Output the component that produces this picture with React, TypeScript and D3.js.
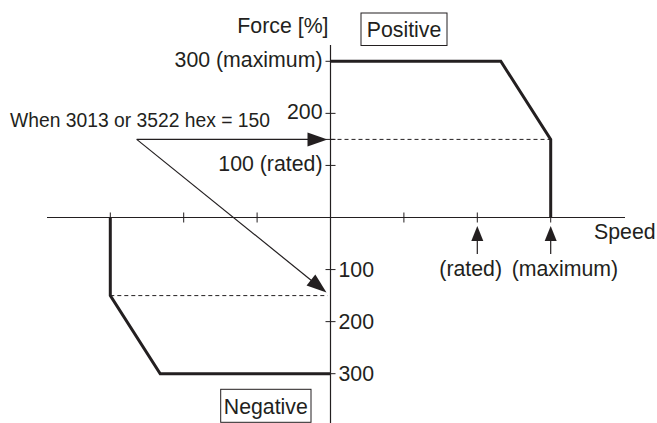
import React from "react";
import * as d3 from "d3";

const W = 657;
const H = 423;

// Speed in units of ticks (rated = 2, maximum = 3); force in %
const speedTicks = [-3, -2, -1, 1, 2, 3];
const forceTicksPos = [300, 200, 150, 100];
const forceTicksNeg = [-100, -200, -300];
const posTickLabels = ["300 (maximum)", "200", "", "100 (rated)"];
const negTickLabels = ["100", "200", "300"];
const positiveSpeed = [0, 2.32, 3, 3];
const positiveForce = [300, 300, 150, 0];
const negativeSpeed = [-3, -3, -2.32, 0];
const negativeForce = [0, -150, -300, -300];
const limitValue = 150;
const ratedSpeed = 2;
const maxSpeed = 3;

const FONT = "'Liberation Sans', Arial, Helvetica, sans-serif";
const INK = "#231f20";

export default function App() {
  const x = d3.scaleLinear().domain([-3, 3]).range([110.3, 550.7]);
  const y = d3.scaleLinear().domain([-300, 300]).range([373.7, 61.3]);
  const line = d3
    .line<[number, number]>()
    .x((d) => x(d[0]))
    .y((d) => y(d[1]));
  const posPts: [number, number][] = positiveSpeed.map((s, i) => [s, positiveForce[i]]);
  const negPts: [number, number][] = negativeSpeed.map((s, i) => [s, negativeForce[i]]);

  const x0 = x(0);
  const y0 = y(0);
  const fs = 21.3;

  // annotation arrows
  const startX = 136.7;
  const startY = y(limitValue);
  const tip1: [number, number] = [x0 - 3, y(limitValue)];
  const tip2: [number, number] = [x0 - 4, y(-limitValue) - 3];

  const arrowHead = (from: [number, number], to: [number, number], len: number, half: number) => {
    const dx = to[0] - from[0];
    const dy = to[1] - from[1];
    const L = Math.hypot(dx, dy);
    const ux = dx / L;
    const uy = dy / L;
    const bx = to[0] - ux * len;
    const by = to[1] - uy * len;
    return `M${to[0]},${to[1]}L${bx - uy * half},${by + ux * half}L${bx + uy * half},${by - ux * half}Z`;
  };
  const shaft = (from: [number, number], to: [number, number], len: number) => {
    const dx = to[0] - from[0];
    const dy = to[1] - from[1];
    const L = Math.hypot(dx, dy);
    return [to[0] - (dx / L) * (len - 1), to[1] - (dy / L) * (len - 1)];
  };
  const s1 = shaft([startX, startY], tip1, 20);
  const s2 = shaft([startX, startY], tip2, 20);

  return (
    <svg
      width={W}
      height={H}
      style={{ position: "absolute", left: 0, top: 0, background: "#fff" }}
      fontFamily={FONT}
    >
      <rect width={W} height={H} fill="#fff" />
      {/* axes */}
      <line x1={47} x2={625} y1={y0} y2={y0} stroke={INK} strokeWidth={1.2} />
      <line x1={x0} x2={x0} y1={45} y2={H} stroke={INK} strokeWidth={1.2} />
      {speedTicks.map((t) => (
        <line key={"xt" + t} x1={x(t)} x2={x(t)} y1={y0 - 5} y2={y0 + 5} stroke={INK} strokeWidth={1} />
      ))}
      {[...forceTicksPos, ...forceTicksNeg].map((t) => (
        <line key={"yt" + t} x1={x0 - 5} x2={x0 + 5} y1={y(t)} y2={y(t)} stroke={INK} strokeWidth={1} />
      ))}

      {/* dashed guides */}
      <line
        x1={x0}
        x2={x(maxSpeed)}
        y1={y(limitValue)}
        y2={y(limitValue)}
        stroke={INK}
        strokeWidth={1}
        strokeDasharray="4 3"
      />
      <line
        x1={x(-maxSpeed)}
        x2={x0 - 3}
        y1={y(-limitValue)}
        y2={y(-limitValue)}
        stroke={INK}
        strokeWidth={1}
        strokeDasharray="4 3"
      />

      {/* curves */}
      <path d={line(posPts) || ""} fill="none" stroke={INK} strokeWidth={3} strokeLinejoin="miter" />
      <path d={line(negPts) || ""} fill="none" stroke={INK} strokeWidth={3} strokeLinejoin="miter" />

      {/* tick labels */}
      {forceTicksPos.map((t, i) =>
        posTickLabels[i] ? (
          <text key={"pl" + t} x={x0 - 8} y={y(t) + 6} textAnchor="end" fontSize={fs} fill={INK}>
            {posTickLabels[i]}
          </text>
        ) : null
      )}
      {forceTicksNeg.map((t, i) => (
        <text key={"nl" + t} x={x0 + 8} y={y(t) + 7} textAnchor="start" fontSize={fs} fill={INK}>
          {negTickLabels[i]}
        </text>
      ))}

      {/* axis titles */}
      <text x={328.5} y={33} textAnchor="end" fontSize={fs} fill={INK}>
        Force [%]
      </text>
      <text x={594} y={238.5} textAnchor="start" fontSize={fs} fill={INK}>
        Speed
      </text>

      {/* Positive / Negative boxes */}
      <rect x={361} y={13} width={86} height={32.5} fill="#fff" stroke={INK} strokeWidth={1} />
      <text x={404} y={36.5} textAnchor="middle" fontSize={fs} fill={INK}>
        Positive
      </text>
      <rect x={220.7} y={389.3} width={90.3} height={33} fill="#fff" stroke={INK} strokeWidth={1} />
      <text x={265.8} y={414} textAnchor="middle" fontSize={fs} fill={INK}>
        Negative
      </text>

      {/* speed arrows */}
      {[ratedSpeed, maxSpeed].map((s) => (
        <g key={"sa" + s}>
          <line x1={x(s)} x2={x(s)} y1={254} y2={238} stroke={INK} strokeWidth={1.2} />
          <path d={`M${x(s)},${226}L${x(s) - 6},${241}L${x(s) + 6},${241}Z`} fill={INK} />
        </g>
      ))}
      <text x={439.3} y={275.5} textAnchor="start" fontSize={fs} fill={INK}>
        (rated)
      </text>
      <text x={511.7} y={275.5} textAnchor="start" fontSize={fs} fill={INK}>
        (maximum)
      </text>

      {/* annotation */}
      <text x={10} y={127} textAnchor="start" fontSize={19.3} fill={INK}>
        When 3013 or 3522 hex = 150
      </text>
      <line x1={startX} y1={startY} x2={s1[0]} y2={s1[1]} stroke={INK} strokeWidth={1.2} />
      <path d={arrowHead([startX, startY], tip1, 20, 7)} fill={INK} />
      <line x1={startX} y1={startY} x2={s2[0]} y2={s2[1]} stroke={INK} strokeWidth={1.2} />
      <path d={arrowHead([startX, startY], tip2, 20, 7)} fill={INK} />
    </svg>
  );
}
